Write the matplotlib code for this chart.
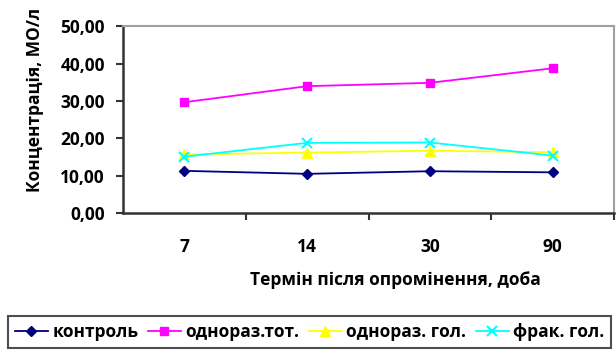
import matplotlib
matplotlib.use('Agg')
import matplotlib.pyplot as plt

plt.rcParams['font.family'] = ['Open Sans', 'DejaVu Sans']
plt.rcParams['font.weight'] = 'bold'

# дані
terms = ['7', '14', '30', '90']
kontrol = [11.3, 10.5, 11.2, 10.9]
odno_tot = [29.7, 34.0, 34.9, 38.8]
odno_gol = [15.7, 16.2, 16.7, 16.3]
frak_gol = [15.1, 18.8, 18.9, 15.4]
y_ticks = [0, 10, 20, 30, 40, 50]
y_tick_labels = ['0,00', '10,00', '20,00', '30,00', '40,00', '50,00']

fs = 12.5

fig = plt.figure(figsize=(6.16, 3.51), dpi=100)
ax = fig.add_axes([123 / 616, 1 - 213 / 351, (614 - 123) / 616, (213 - 26.5) / 351])

x = list(range(len(terms)))
ax.plot(x, kontrol, color='#000080', marker='D', markersize=5, lw=1.3, label='контроль')
ax.plot(x, odno_tot, color='#FF00FF', marker='s', markersize=6, lw=1.3, label='однораз.тот.')
ax.plot(x, odno_gol, color='#FFFF00', marker='^', markersize=6.5, lw=1.3, label='однораз. гол.')
ax.plot(x, frak_gol, color='#00FFFF', marker='x', markersize=6.5, mew=1.5, lw=1.3, label='фрак. гол.')

ax.set_xlim(-0.5, 3.46)
ax.set_ylim(0, 50)

# підписи категорій по центру, риски на межах
ax.set_xticks(x)
ax.set_xticklabels(terms, fontsize=fs, fontweight='bold')
ax.tick_params(axis='x', which='major', length=0, pad=18)
ax.set_xticks([0.5, 1.5, 2.5, 3.5], minor=True)
ax.tick_params(axis='x', which='minor', length=5, width=1.5, color='#333333', direction='out')

ax.set_yticks(y_ticks)
ax.set_yticklabels(y_tick_labels, fontsize=fs, fontweight='bold')
ax.tick_params(axis='y', length=5, width=1.5, color='#333333', pad=8)

for s in ['left', 'bottom']:
    ax.spines[s].set_color('#333333')
    ax.spines[s].set_linewidth(1.8)
for s in ['top', 'right']:
    ax.spines[s].set_color('#a0a0a0')
    ax.spines[s].set_linewidth(1.5)

ax.set_xlabel('Термін після опромінення, доба', fontsize=fs, fontweight='bold', va='center')
ax.xaxis.set_label_coords((395 - 123) / 491, (213 - 280) / 186.5)
ax.set_ylabel('Концентрація, МО/л', fontsize=fs, fontweight='bold', va='center')
ax.yaxis.set_label_coords((35 - 123) / 491, (213 - 100) / 186.5)

leg = fig.legend(loc='upper left', bbox_to_anchor=(8 / 616, 1 - 316 / 351), ncol=4,
                 fontsize=12.5, frameon=True, fancybox=False, edgecolor='#222222',
                 handlelength=1.9, handletextpad=0.25, columnspacing=0.55,
                 borderpad=0.4, borderaxespad=0)
leg.get_frame().set_linewidth(1.5)
for t in leg.get_texts():
    t.set_fontweight('bold')

fig.savefig('out.png', dpi=100)
